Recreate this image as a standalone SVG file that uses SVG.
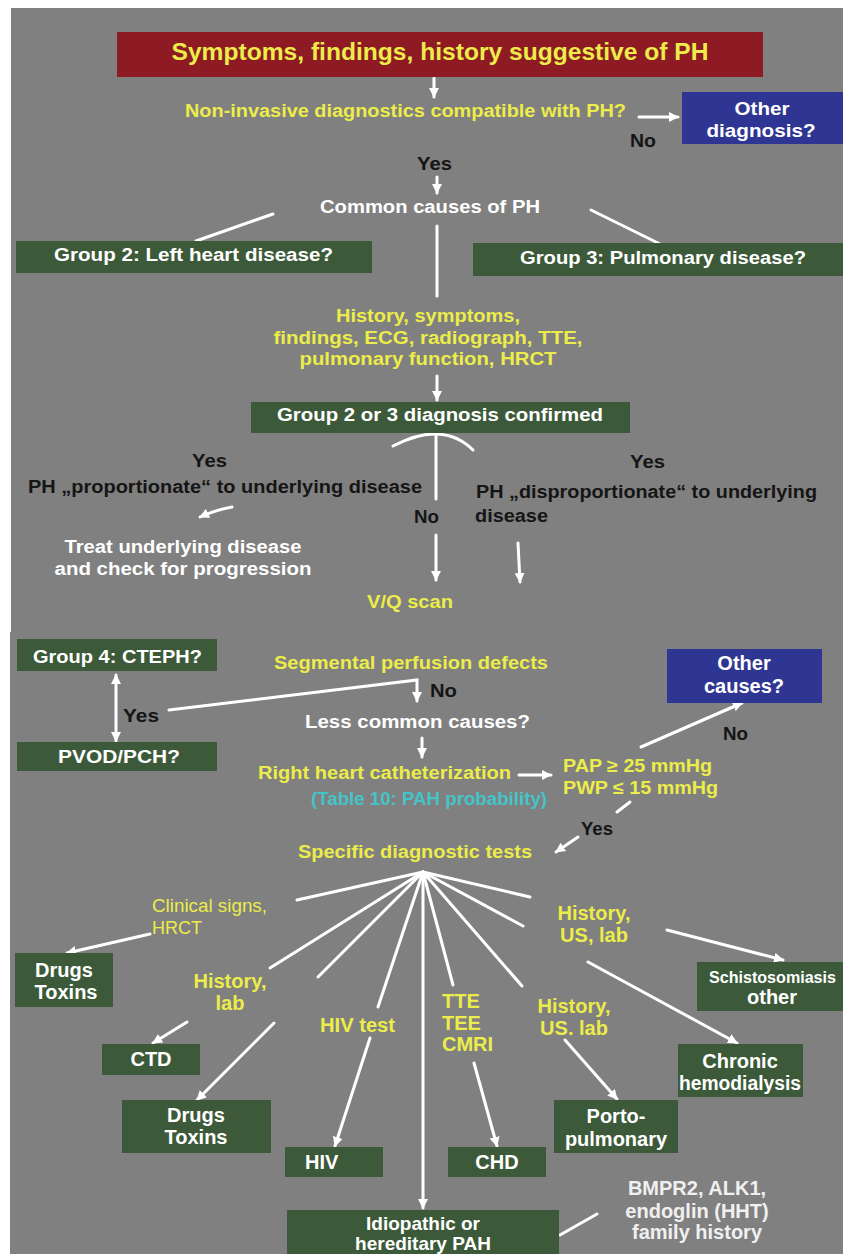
<svg xmlns="http://www.w3.org/2000/svg" width="843" height="1254" viewBox="0 0 843 1254">
<defs>
<style>
.t{font-family:"Liberation Sans",Arial,sans-serif;font-weight:bold;font-size:18px}
.f20{font-size:20px}
.n{font-weight:normal}
.m{text-anchor:middle}
.y{fill:#ECEC4A}
.w{fill:#FFFFFF}
.k{fill:#151515}
.c{fill:#45C4C8}
.g{fill:#F0F0F0}
.box{fill:#3C5A39}
.blue{fill:#2F3592}
.red{fill:#8E1B23}
.ln{stroke:#FFFFFF;stroke-width:3;fill:none;stroke-linecap:round}
.ar{marker-end:url(#ah)}
.ab{marker-start:url(#ah);marker-end:url(#ah)}
</style>
<marker id="ah" viewBox="0 0 10 10" refX="9" refY="5" markerWidth="10" markerHeight="10" markerUnits="userSpaceOnUse" orient="auto-start-reverse">
<path d="M0,0 L10,5 L0,10 z" fill="#FFFFFF"/>
</marker>
</defs>
<rect x="0" y="0" width="843" height="1254" fill="#FFFFFF"/>
<rect x="11" y="8" width="832" height="1246" fill="#808080"/>
<rect x="10" y="632" width="833" height="622" fill="#808080"/>

<g id="connectors">
<line class="ln ar" x1="434" y1="78" x2="434" y2="97"/>
<line class="ln ar" x1="639" y1="117" x2="678" y2="117"/>
<line class="ln ar" x1="437" y1="177" x2="437" y2="193"/>
<line class="ln" x1="273" y1="214" x2="196" y2="241"/>
<line class="ln" x1="591" y1="210" x2="660" y2="244"/>
<line class="ln" x1="437" y1="226" x2="437" y2="296"/>
<line class="ln ar" x1="437" y1="376" x2="437" y2="400"/>
<path class="ln" d="M393,446 Q418,433 437,434 Q458,435 473,450"/>
<line class="ln" x1="436" y1="435" x2="436" y2="499"/>
<path class="ln ar" d="M232,507 Q215,510 200,517"/>
<line class="ln ar" x1="436" y1="535" x2="436" y2="580"/>
<line class="ln ar" x1="518" y1="543" x2="520" y2="582"/>
<line class="ln ab" x1="116" y1="675" x2="116" y2="741"/>
<polyline class="ln ar" points="169,710 417,680 417,701"/>
<line class="ln ar" x1="422" y1="738" x2="422" y2="757"/>
<line class="ln ar" x1="519" y1="775" x2="551" y2="775"/>
<line class="ln ar" x1="641" y1="747" x2="742" y2="703"/>
<line class="ln" x1="630" y1="802" x2="617" y2="812"/>
<line class="ln ar" x1="578" y1="837" x2="556" y2="852"/>
<line class="ln" x1="423" y1="872" x2="297" y2="900"/>
<line class="ln" x1="423" y1="872" x2="270" y2="968"/>
<line class="ln" x1="423" y1="872" x2="318" y2="977"/>
<line class="ln" x1="423" y1="872" x2="378" y2="1007"/>
<line class="ln ar" x1="423" y1="872" x2="423" y2="1208"/>
<line class="ln" x1="423" y1="872" x2="453" y2="985"/>
<line class="ln" x1="423" y1="872" x2="522" y2="986"/>
<line class="ln" x1="423" y1="872" x2="523" y2="926"/>
<line class="ln" x1="423" y1="872" x2="530" y2="897"/>
<line class="ln ar" x1="150" y1="934" x2="67" y2="953"/>
<line class="ln ar" x1="187" y1="1022" x2="153" y2="1043"/>
<line class="ln ar" x1="274" y1="1023" x2="197" y2="1100"/>
<line class="ln ar" x1="370" y1="1038" x2="335" y2="1146"/>
<line class="ln ar" x1="474" y1="1063" x2="497" y2="1146"/>
<line class="ln ar" x1="565" y1="1040" x2="617" y2="1099"/>
<line class="ln ar" x1="667" y1="930" x2="783" y2="960"/>
<line class="ln ar" x1="588" y1="962" x2="737" y2="1043"/>
<line class="ln" x1="560" y1="1235" x2="597" y2="1214"/>
</g>

<g id="n-start"><rect class="red" x="117" y="32" width="646" height="45"/>
<text class="t y m" x="440" y="60" style="font-size:24px" textLength="537" lengthAdjust="spacingAndGlyphs">Symptoms,  findings,  history suggestive  of PH</text></g>
<g id="n-noninvasive"><text class="t y" x="185" y="117" textLength="441" lengthAdjust="spacingAndGlyphs">Non-invasive diagnostics compatible with PH?</text></g>
<g id="n-otherdiag"><rect class="blue" x="682" y="92" width="161" height="52"/>
<text class="t w m" x="762" y="115" style="font-size:19px" textLength="55" lengthAdjust="spacingAndGlyphs">Other</text>
<text class="t w m" x="761" y="137" style="font-size:19px" textLength="109" lengthAdjust="spacingAndGlyphs">diagnosis?</text></g>
<g id="l-no1"><text class="t k" x="630" y="147" textLength="26" lengthAdjust="spacingAndGlyphs">No</text></g>
<g id="l-yes1"><text class="t k" x="417" y="170" textLength="35" lengthAdjust="spacingAndGlyphs">Yes</text></g>
<g id="n-common"><text class="t w" x="320" y="213" textLength="220" lengthAdjust="spacingAndGlyphs">Common causes of PH</text></g>
<g id="n-group2"><rect class="box" x="16" y="241" width="356" height="32"/>
<text class="t w" x="54" y="261" textLength="279" lengthAdjust="spacingAndGlyphs">Group 2: Left heart disease?</text></g>
<g id="n-group3"><rect class="box" x="473" y="243" width="370" height="33"/>
<text class="t w" x="520" y="264" textLength="286" lengthAdjust="spacingAndGlyphs">Group 3: Pulmonary disease?</text></g>
<g id="n-history"><text class="t y m" x="428" y="322" textLength="184" lengthAdjust="spacingAndGlyphs">History, symptoms,</text>
<text class="t y m" x="428" y="344" textLength="309" lengthAdjust="spacingAndGlyphs">findings, ECG, radiograph, TTE,</text>
<text class="t y m" x="428" y="365" textLength="257" lengthAdjust="spacingAndGlyphs">pulmonary function, HRCT</text></g>
<g id="n-confirmed"><rect class="box" x="251" y="402" width="379" height="31"/>
<text class="t w" x="277" y="421" textLength="326" lengthAdjust="spacingAndGlyphs">Group 2 or 3 diagnosis confirmed</text></g>
<g id="l-yes2"><text class="t k" x="192" y="467" textLength="35" lengthAdjust="spacingAndGlyphs">Yes</text></g>
<g id="l-prop"><text class="t k" x="28" y="493" textLength="394" lengthAdjust="spacingAndGlyphs">PH „proportionate“ to underlying disease</text></g>
<g id="l-yes3"><text class="t k" x="630" y="468" textLength="35" lengthAdjust="spacingAndGlyphs">Yes</text></g>
<g id="l-disprop"><text class="t k" x="476" y="498" textLength="341" lengthAdjust="spacingAndGlyphs">PH „disproportionate“ to underlying</text>
<text class="t k" x="475" y="522" textLength="73" lengthAdjust="spacingAndGlyphs">disease</text></g>
<g id="l-no2"><text class="t k" x="414" y="523" textLength="25" lengthAdjust="spacingAndGlyphs">No</text></g>
<g id="n-treat"><text class="t w m" x="183" y="553" textLength="237" lengthAdjust="spacingAndGlyphs">Treat underlying disease</text>
<text class="t w m" x="183" y="575" textLength="257" lengthAdjust="spacingAndGlyphs">and check for progression</text></g>
<g id="n-vq"><text class="t y" x="367" y="608" textLength="86" lengthAdjust="spacingAndGlyphs">V/Q scan</text></g>

<g id="n-group4"><rect class="box" x="17" y="639" width="200" height="32"/>
<text class="t w" x="33" y="663" textLength="169" lengthAdjust="spacingAndGlyphs">Group 4: CTEPH?</text></g>
<g id="n-pvod"><rect class="box" x="17" y="742" width="200" height="29"/>
<text class="t w" x="58" y="763" textLength="122" lengthAdjust="spacingAndGlyphs">PVOD/PCH?</text></g>
<g id="l-yes4"><text class="t k" x="123" y="722" textLength="36" lengthAdjust="spacingAndGlyphs">Yes</text></g>
<g id="n-segmental"><text class="t y" x="274" y="669" textLength="274" lengthAdjust="spacingAndGlyphs">Segmental perfusion defects</text></g>
<g id="l-no3"><text class="t k" x="430" y="697" textLength="27" lengthAdjust="spacingAndGlyphs">No</text></g>
<g id="n-lesscommon"><text class="t w" x="305" y="728" textLength="225" lengthAdjust="spacingAndGlyphs">Less common causes?</text></g>
<g id="n-rhc"><text class="t y" x="258" y="779" textLength="253" lengthAdjust="spacingAndGlyphs">Right heart catheterization</text>
<text class="t c" x="311" y="805" textLength="236" lengthAdjust="spacingAndGlyphs">(Table 10: PAH probability)</text></g>
<g id="n-pap"><text class="t y" x="563" y="772" textLength="149" lengthAdjust="spacingAndGlyphs">PAP ≥ 25 mmHg</text>
<text class="t y" x="563" y="794" textLength="155" lengthAdjust="spacingAndGlyphs">PWP ≤ 15 mmHg</text></g>
<g id="n-othercauses"><rect class="blue" x="667" y="649" width="155" height="54"/>
<text class="t w m f20" x="744" y="670">Other</text>
<text class="t w m f20" x="744" y="693">causes?</text></g>
<g id="l-no4"><text class="t k" x="723" y="740" textLength="25" lengthAdjust="spacingAndGlyphs">No</text></g>
<g id="l-yes5"><text class="t k" x="581" y="835" textLength="32" lengthAdjust="spacingAndGlyphs">Yes</text></g>
<g id="n-specific"><text class="t y" x="298" y="858" textLength="234" lengthAdjust="spacingAndGlyphs">Specific diagnostic tests</text></g>

<g id="l-clinical"><text class="t y n" x="152" y="912" textLength="115" lengthAdjust="spacingAndGlyphs">Clinical signs,</text>
<text class="t y n" x="152" y="934">HRCT</text></g>
<g id="l-histlab"><text class="t y m f20" x="230" y="988">History,</text>
<text class="t y m f20" x="230" y="1010">lab</text></g>
<g id="l-hivtest"><text class="t y f20" x="320" y="1032" textLength="75" lengthAdjust="spacingAndGlyphs">HIV test</text></g>
<g id="l-tte"><text class="t y f20" x="442" y="1008">TTE</text>
<text class="t y f20" x="442" y="1030">TEE</text>
<text class="t y f20" x="442" y="1051">CMRI</text></g>
<g id="l-histus1"><text class="t y m f20" x="594" y="920">History,</text>
<text class="t y m f20" x="594" y="942">US, lab</text></g>
<g id="l-histus2"><text class="t y m f20" x="574" y="1013">History,</text>
<text class="t y m f20" x="574" y="1035">US. lab</text></g>

<g id="n-drugs1"><rect class="box" x="15" y="953" width="98" height="54"/>
<text class="t w m f20" x="64" y="977">Drugs</text>
<text class="t w m f20" x="66" y="999">Toxins</text></g>
<g id="n-ctd"><rect class="box" x="102" y="1044" width="98" height="31"/>
<text class="t w m f20" x="151" y="1066">CTD</text></g>
<g id="n-drugs2"><rect class="box" x="122" y="1100" width="149" height="53"/>
<text class="t w m f20" x="196" y="1122">Drugs</text>
<text class="t w m f20" x="196" y="1144">Toxins</text></g>
<g id="n-hiv"><rect class="box" x="285" y="1147" width="98" height="30"/>
<text class="t w f20" x="305" y="1169">HIV</text></g>
<g id="n-chd"><rect class="box" x="448" y="1147" width="98" height="30"/>
<text class="t w m f20" x="497" y="1169">CHD</text></g>
<g id="n-porto"><rect class="box" x="554" y="1100" width="124" height="53"/>
<text class="t w m f20" x="616" y="1123">Porto-</text>
<text class="t w m f20" x="616" y="1146">pulmonary</text></g>
<g id="n-chronic"><rect class="box" x="678" y="1044" width="125" height="53"/>
<text class="t w m f20" x="740" y="1068">Chronic</text>
<text class="t w m f20" x="740" y="1090" textLength="122" lengthAdjust="spacingAndGlyphs">hemodialysis</text></g>
<g id="n-schisto"><rect class="box" x="697" y="962" width="146" height="49"/>
<text class="t w" x="709" y="983" style="font-size:16.5px" textLength="127" lengthAdjust="spacingAndGlyphs">Schistosomiasis</text>
<text class="t w m f20" x="772" y="1004">other</text></g>
<g id="n-idiopathic"><rect class="box" x="287" y="1210" width="272" height="44"/>
<text class="t w m" x="423" y="1230" style="font-size:19px">Idiopathic or</text>
<text class="t w m" x="423" y="1250" style="font-size:19px">hereditary PAH</text></g>
<g id="l-bmpr2"><text class="t g m f20" x="697" y="1195">BMPR2, ALK1,</text>
<text class="t g m f20" x="697" y="1218">endoglin (HHT)</text>
<text class="t g m f20" x="697" y="1239">family history</text></g>
</svg>
